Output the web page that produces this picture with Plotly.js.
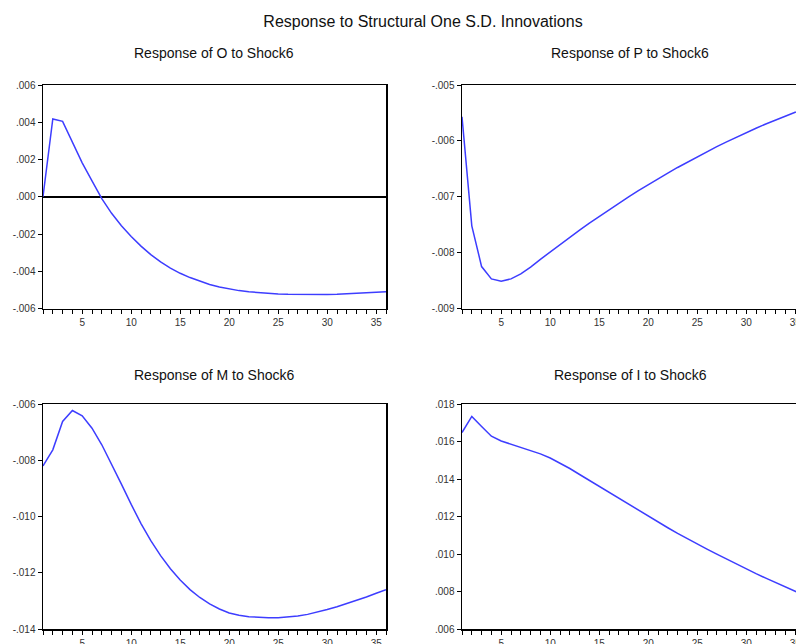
<!DOCTYPE html>
<html>
<head>
<meta charset="utf-8">
<script src="https://cdn.plot.ly/plotly-3.0.1.min.js"></script>
<style>
html,body{margin:0;padding:0;overflow:hidden;background:#fff;width:796px;height:644px;}
#chart{width:820px;height:644px;}
</style>
</head>
<body>
<div id="chart"></div>
<script>
// Data
const periods = [1,2,3,4,5,6,7,8,9,10,11,12,13,14,15,16,17,18,19,20,21,22,23,24,25,26,27,28,29,30,31,32,33,34,35,36];
const respO = [0.00000,0.00418,0.00405,0.00297,0.00182,0.00085,-0.00010,-0.00089,-0.00156,-0.00213,-0.00265,-0.00311,-0.00350,-0.00383,-0.00411,-0.00434,-0.00454,-0.00471,-0.00485,-0.00496,-0.00504,-0.00510,-0.00515,-0.00519,-0.00522,-0.00524,-0.00525,-0.00526,-0.00526,-0.00525,-0.00524,-0.00522,-0.00519,-0.00516,-0.00513,-0.00510];
const respP = [-0.00557,-0.00752,-0.00825,-0.00847,-0.00851,-0.00847,-0.00838,-0.00826,-0.00812,-0.007985,-0.007853,-0.007723,-0.007596,-0.007472,-0.007351,-0.007232,-0.007116,-0.007002,-0.006892,-0.006784,-0.006678,-0.006576,-0.006476,-0.006379,-0.006284,-0.006192,-0.006103,-0.006017,-0.005933,-0.005852,-0.005774,-0.005698,-0.005625,-0.005555,-0.005488,-0.005423];
const respM = [-0.00820,-0.00763,-0.00662,-0.00623,-0.00642,-0.00686,-0.00745,-0.00813,-0.00885,-0.00957,-0.01025,-0.01086,-0.01139,-0.01186,-0.01226,-0.01260,-0.01288,-0.01311,-0.01329,-0.01343,-0.01351,-0.01356,-0.01359,-0.01360,-0.01360,-0.01358,-0.01354,-0.01348,-0.01340,-0.01331,-0.01321,-0.01310,-0.01298,-0.01286,-0.01273,-0.01260];
const respI = [0.01648,0.01734,0.01680,0.01628,0.01603,0.01585,0.01570,0.01553,0.01534,0.01512,0.01486,0.01456,0.01424,0.01392,0.01360,0.01328,0.01296,0.01264,0.01232,0.01200,0.01170,0.01140,0.01110,0.01081,0.01053,0.01026,0.00999,0.00972,0.00946,0.00920,0.00895,0.00871,0.00847,0.00823,0.00800,0.00778];

const xTicks = [5,10,15,20,25,30,35];
const yTicksO = [0.006,0.004,0.002,0,-0.002,-0.004,-0.006];
const yTextO = [".006",".004",".002",".000","-.002","-.004","-.006"];
const yTicksP = [-0.005,-0.006,-0.007,-0.008,-0.009];
const yTextP = ["-.005","-.006","-.007","-.008","-.009"];
const yTicksM = [-0.006,-0.008,-0.010,-0.012,-0.014];
const yTextM = ["-.006","-.008","-.010","-.012","-.014"];
const yTicksI = [0.018,0.016,0.014,0.012,0.010,0.008,0.006];
const yTextI = [".018",".016",".014",".012",".010",".008",".006"];

const mainTitle = "Response to Structural One S.D. Innovations";
const subTitles = ["Response of O to Shock6","Response of P to Shock6","Response of M to Shock6","Response of I to Shock6"];

const W = 820, H = 644;
const FONT = "Liberation Sans, Arial, sans-serif";
const lineColor = "#3d3dff";

function px(x){return x/W;}
function py(y){return 1 - y/H;}

const xDomL = [px(43), px(386)];
const xDomR = [px(462), px(805)];
const yDomT = [py(308.5), py(85)];
const yDomB = [py(629), py(404)];

function xaxis(dom, anchor){
  return {domain: dom, anchor: anchor, range:[1,36], showgrid:false, zeroline:false,
    showline:true, mirror:true, linecolor:"#000", linewidth:1.5,
    tickmode:"array", tickvals:xTicks, ticks:"outside", ticklen:4, tickwidth:1, tickcolor:"#000",
    minor:{dtick:1, tick0:0, ticks:"outside", ticklen:4, tickwidth:1, tickcolor:"#000", showgrid:false},
    tickfont:{family:FONT, size:10, color:"#333"}, fixedrange:true};
}
function yaxis(dom, anchor, range, vals, text, zero){
  return {domain: dom, anchor: anchor, range: range, showgrid:false,
    zeroline: !!zero, zerolinecolor:"#000", zerolinewidth:1.5,
    showline:true, mirror:true, linecolor:"#000", linewidth:1.5,
    tickmode:"array", tickvals:vals, ticktext:text, ticks:"outside", ticklen:4, tickwidth:1, tickcolor:"#000",
    tickfont:{family:FONT, size:10, color:"#333"}, fixedrange:true};
}

const traces = [
  {x:periods, y:respO, xaxis:"x", yaxis:"y", mode:"lines", line:{color:lineColor, width:1.5}, hoverinfo:"skip"},
  {x:periods, y:respP, xaxis:"x2", yaxis:"y2", mode:"lines", line:{color:lineColor, width:1.5}, hoverinfo:"skip"},
  {x:periods, y:respM, xaxis:"x3", yaxis:"y3", mode:"lines", line:{color:lineColor, width:1.5}, hoverinfo:"skip"},
  {x:periods, y:respI, xaxis:"x4", yaxis:"y4", mode:"lines", line:{color:lineColor, width:1.5}, hoverinfo:"skip"}
];

function sub(text, x, y){
  return {text:text, x:x, y:y, xref:"paper", yref:"paper", xanchor:"center", yanchor:"middle",
    showarrow:false, font:{family:FONT, size:14, color:"#111"}};
}

const layout = {
  width:W, height:H, margin:{l:0,r:0,t:0,b:0}, paper_bgcolor:"#fff", plot_bgcolor:"#fff",
  showlegend:false,
  title:{text:mainTitle, x:px(423), xref:"paper", xanchor:"center", y:py(21), yref:"paper", yanchor:"middle",
    font:{family:FONT, size:16, color:"#111"}},
  xaxis: xaxis(xDomL, "y"),
  yaxis: yaxis(yDomT, "x", [-0.006,0.006], yTicksO, yTextO, true),
  xaxis2: xaxis(xDomR, "y2"),
  yaxis2: yaxis(yDomT, "x2", [-0.009,-0.005], yTicksP, yTextP, false),
  xaxis3: xaxis(xDomL, "y3"),
  yaxis3: yaxis(yDomB, "x3", [-0.014,-0.006], yTicksM, yTextM, false),
  xaxis4: xaxis(xDomR, "y4"),
  yaxis4: yaxis(yDomB, "x4", [0.006,0.018], yTicksI, yTextI, false),
  annotations:[
    sub(subTitles[0], px(214), py(53)),
    sub(subTitles[1], px(630), py(53)),
    sub(subTitles[2], px(214), py(375)),
    sub(subTitles[3], px(630), py(375))
  ]
};

Plotly.newPlot("chart", traces, layout, {staticPlot:true, displayModeBar:false});
</script>
</body>
</html>
